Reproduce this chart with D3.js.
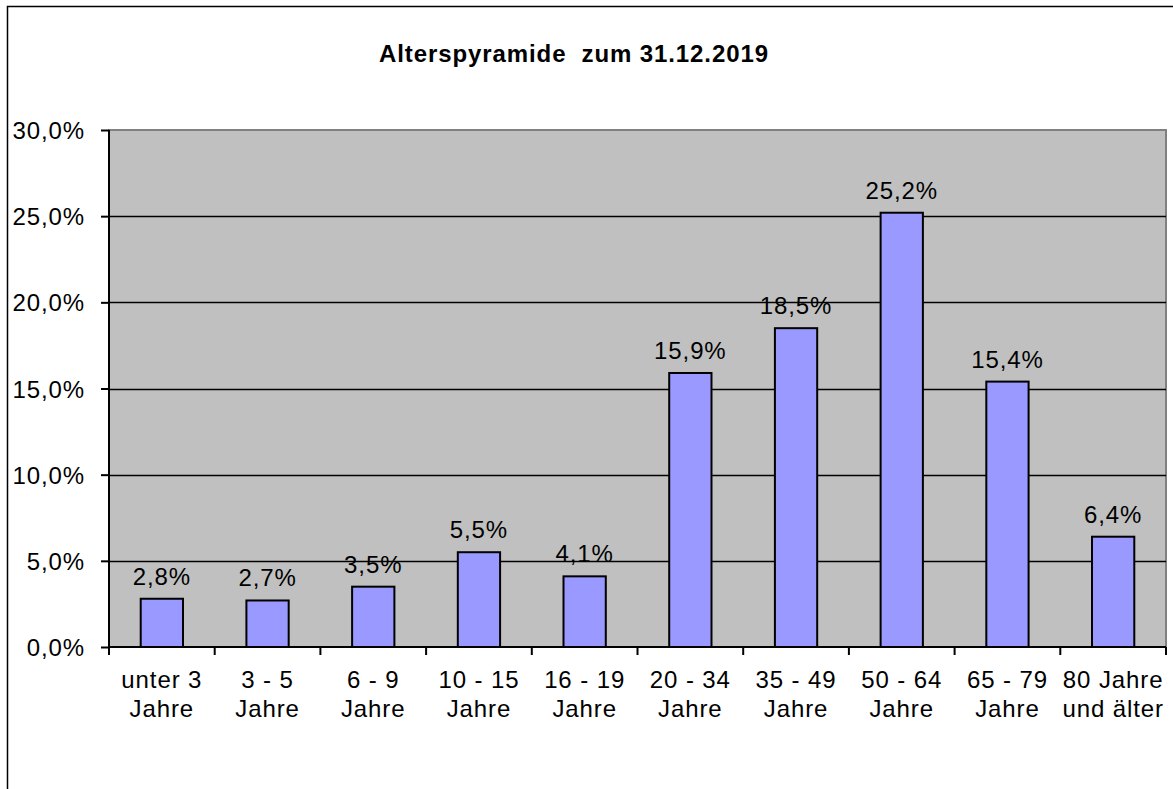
<!DOCTYPE html>
<html>
<head>
<meta charset="utf-8">
<script src="https://cdn.jsdelivr.net/npm/d3@7"></script>
<style>
  body { margin: 0; background: #fff; }
  text { font-family: "Liberation Sans", Arial, sans-serif; letter-spacing: 0.9px; }
</style>
</head>
<body>
<div id="chart"></div>
<script>
// Data
const categories = ["unter 3|Jahre", "3 - 5|Jahre", "6 - 9|Jahre", "10 - 15|Jahre", "16 - 19|Jahre",
                    "20 - 34|Jahre", "35 - 49|Jahre", "50 - 64|Jahre", "65 - 79|Jahre", "80 Jahre|und älter"];
const shares = [2.8, 2.7, 3.5, 5.5, 4.1, 15.9, 18.5, 25.2, 15.4, 6.4];
const yTicks = [0, 5, 10, 15, 20, 25, 30];
const title = "Alterspyramide  zum 31.12.2019";

const W = 1173, H = 789;
const margin = {top: 130, right: 7, bottom: 142, left: 109};
const width = W - margin.left - margin.right;
const height = H - margin.top - margin.bottom;

const fmt = v => v.toFixed(1).replace(".", ",") + "%";

const root = d3.select("#chart")
    .append("svg")
    .attr("width", W)
    .attr("height", H);

// Outer frame (runs off the right and bottom edges)
root.append("rect")
    .attr("x", 7.5)
    .attr("y", 6.5)
    .attr("width", 1300)
    .attr("height", 900)
    .attr("fill", "none")
    .attr("stroke", "black")
    .attr("stroke-width", 1.5);

// Title
root.append("text")
    .attr("x", 574)
    .attr("y", 62)
    .attr("text-anchor", "middle")
    .style("font-size", "24px")
    .style("font-weight", "bold")
    .style("white-space", "pre")
    .text(title);

const svg = root.append("g")
    .attr("transform", `translate(${margin.left},${margin.top})`);

const x = d3.scaleBand()
    .domain(categories)
    .range([0, width])
    .paddingInner(0.6)
    .paddingOuter(0.3);

const xOuter = d3.scaleBand()
    .domain(categories)
    .range([0, width]);

const y = d3.scaleLinear()
    .domain([0, 30])
    .range([height, 0]);

// Plot background
svg.append("rect")
    .attr("width", width)
    .attr("height", height)
    .attr("fill", "#c0c0c0")
    .attr("stroke", "#808080")
    .attr("stroke-width", 2);

// Gridlines
svg.selectAll(".grid")
    .data(yTicks.filter(t => t > 0 && t < 30))
    .enter()
    .append("line")
    .attr("x1", 0)
    .attr("x2", width)
    .attr("y1", d => Math.round(y(d)) + 0.5)
    .attr("y2", d => Math.round(y(d)) + 0.5)
    .attr("stroke", "black")
    .attr("stroke-width", 1.3);

// Bars
svg.selectAll(".bar")
    .data(shares)
    .enter()
    .append("rect")
    .attr("x", (d, i) => x(categories[i]))
    .attr("y", d => y(d))
    .attr("width", x.bandwidth())
    .attr("height", d => height - y(d))
    .attr("fill", "#9999ff")
    .attr("stroke", "black")
    .attr("stroke-width", 2);

// Value labels
svg.selectAll(".val")
    .data(shares)
    .enter()
    .append("text")
    .attr("x", (d, i) => x(categories[i]) + x.bandwidth() / 2)
    .attr("y", d => y(d) - 14)
    .attr("text-anchor", "middle")
    .style("font-size", "24px")
    .text(d => fmt(d));

// Y axis
const yAxis = svg.append("g")
    .call(d3.axisLeft(y).tickValues(yTicks).tickSize(8).tickPadding(16).tickFormat(fmt));
yAxis.selectAll("line").attr("stroke", "black").attr("stroke-width", 2);
yAxis.select(".domain").attr("stroke", "black").attr("stroke-width", 2).attr("d", `M0,${height}V0`);
yAxis.selectAll("text")
    .attr("fill", "black")
    .attr("dy", "0.36em")
    .style("font-size", "24px")
    .style("font-family", "'Liberation Sans', Arial, sans-serif");

// X axis: line with ticks at category boundaries
const xAxis = svg.append("g")
    .attr("transform", `translate(0,${height})`);
xAxis.append("line")
    .attr("x1", 0)
    .attr("x2", width)
    .attr("stroke", "black")
    .attr("stroke-width", 2);
xAxis.selectAll(".tick")
    .data(categories.concat([null]))
    .enter()
    .append("line")
    .attr("x1", (d, i) => i * xOuter.step())
    .attr("x2", (d, i) => i * xOuter.step())
    .attr("y1", 0)
    .attr("y2", 8)
    .attr("stroke", "black")
    .attr("stroke-width", 2);

const labels = xAxis.selectAll(".lab")
    .data(categories)
    .enter()
    .append("text")
    .attr("x", d => xOuter(d) + xOuter.bandwidth() / 2)
    .attr("text-anchor", "middle")
    .style("font-size", "24px");
labels.each(function(d) {
    const parts = d.split("|");
    d3.select(this).selectAll("tspan")
        .data(parts)
        .enter()
        .append("tspan")
        .attr("x", xOuter(d) + xOuter.bandwidth() / 2)
        .attr("y", (p, j) => 41 + j * 29)
        .text(p => p);
});
</script>
</body>
</html>
